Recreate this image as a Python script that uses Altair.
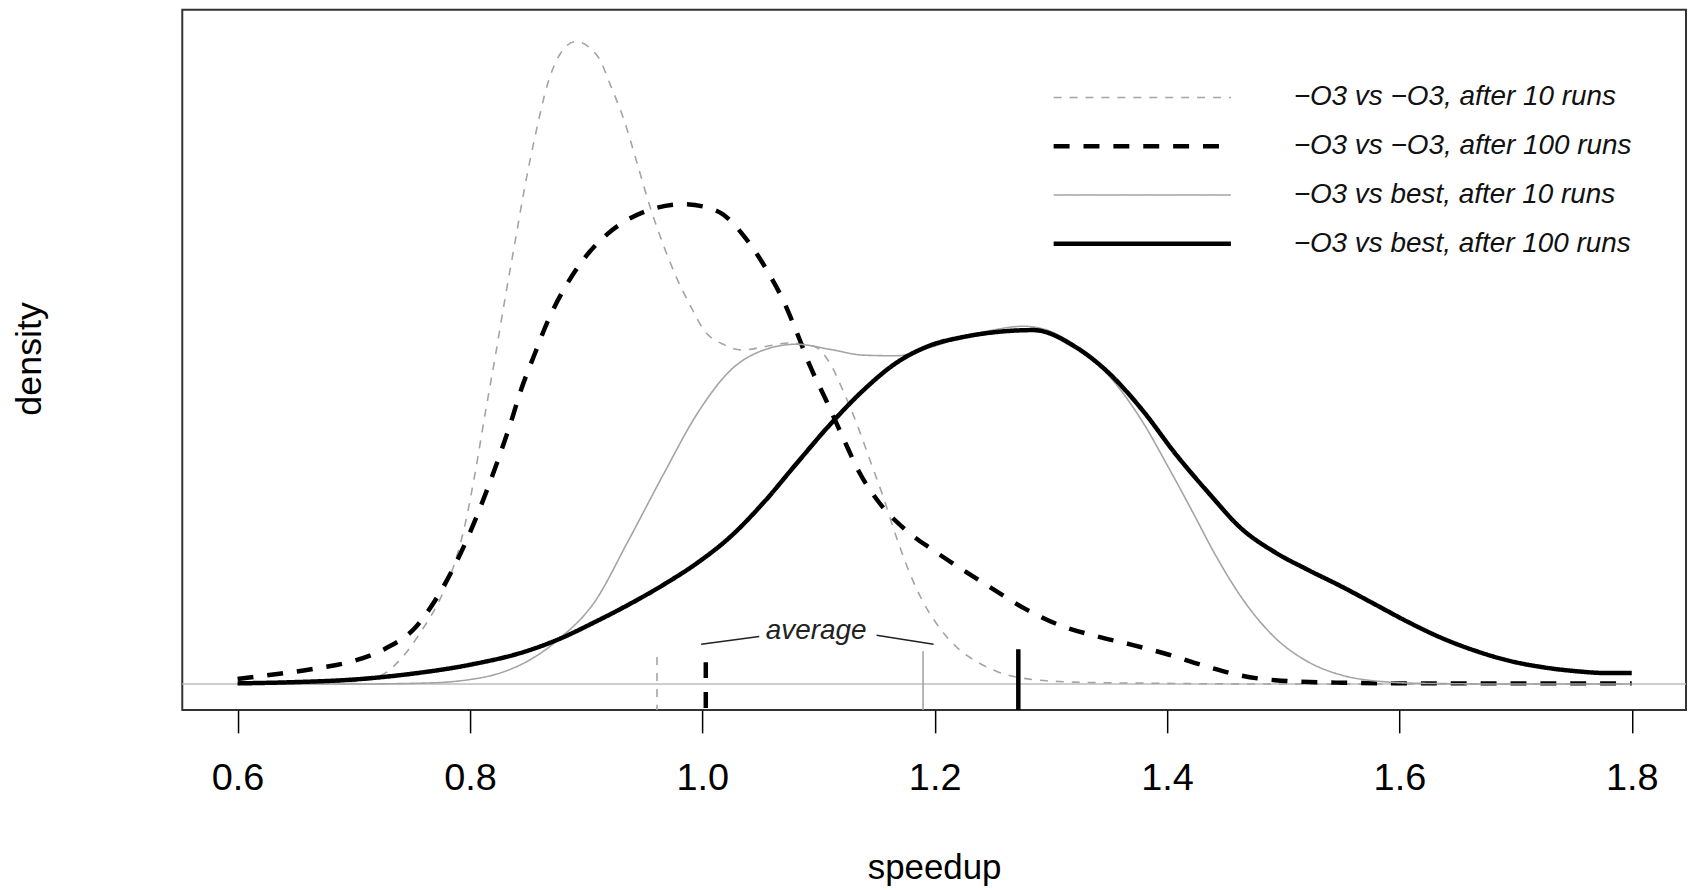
import altair as alt
import pandas as pd

# ---------------- data ----------------
series_names = [
    "\u2212O3 vs \u2212O3, after 10 runs",
    "\u2212O3 vs \u2212O3, after 100 runs",
    "\u2212O3 vs best, after 10 runs",
    "\u2212O3 vs best, after 100 runs",
]
series_runs = [10, 100, 10, 100]

o3_10_x = [0.60, 0.65, 0.70, 0.724, 0.741, 0.758, 0.775, 0.787, 0.796, 0.804, 0.813, 0.822,
           0.830, 0.839, 0.847, 0.856, 0.867, 0.878, 0.891, 0.910, 0.921, 0.933, 0.944,
           0.955, 0.967, 0.978, 0.990, 1.001, 1.019, 1.035, 1.053, 1.075, 1.096, 1.110,
           1.122, 1.133, 1.144, 1.156, 1.167, 1.178, 1.190, 1.204, 1.221, 1.238, 1.253,
           1.28, 1.32, 1.40, 1.50, 1.60, 1.70, 1.80]
o3_10_y = [0.0, 0.001, 0.004, 0.014, 0.040, 0.082, 0.135, 0.189, 0.250, 0.324, 0.420, 0.512,
           0.598, 0.690, 0.772, 0.852, 0.935, 0.982, 1.0, 0.977, 0.932, 0.876, 0.810,
           0.743, 0.681, 0.632, 0.588, 0.552, 0.528, 0.520, 0.525, 0.531, 0.526, 0.499,
           0.453, 0.405, 0.350, 0.290, 0.229, 0.175, 0.128, 0.088, 0.054, 0.033, 0.020,
           0.008, 0.003, 0.001, 0.0, 0.0, 0.0, 0.0]

o3_100_x = [0.60, 0.636, 0.667, 0.698, 0.727, 0.753, 0.770, 0.787, 0.801, 0.813, 0.824, 0.835,
            0.844, 0.856, 0.867, 0.882, 0.899, 0.918, 0.950, 0.984, 1.013, 1.036, 1.056,
            1.070, 1.081, 1.093, 1.107, 1.122, 1.135, 1.152, 1.173, 1.199, 1.224, 1.250,
            1.278, 1.307, 1.338, 1.370, 1.401, 1.433, 1.464, 1.493, 1.55, 1.60, 1.70, 1.80]
o3_100_y = [0.008, 0.016, 0.024, 0.035, 0.055, 0.088, 0.130, 0.185, 0.240, 0.294, 0.348, 0.406,
            0.458, 0.515, 0.565, 0.618, 0.664, 0.700, 0.735, 0.747, 0.736, 0.697, 0.643,
            0.596, 0.549, 0.494, 0.440, 0.380, 0.330, 0.283, 0.243, 0.208, 0.178, 0.148,
            0.117, 0.092, 0.075, 0.061, 0.046, 0.028, 0.013, 0.006, 0.002, 0.001, 0.001, 0.001]

best_10_x = [0.60, 0.70, 0.75, 0.78, 0.80, 0.822, 0.850, 0.878, 0.907, 0.936, 0.967, 0.996,
             1.024, 1.053, 1.081, 1.110, 1.139, 1.167, 1.196, 1.224, 1.253, 1.276, 1.293,
             1.321, 1.350, 1.379, 1.401, 1.422, 1.441, 1.464, 1.493, 1.521, 1.550, 1.578,
             1.62, 1.70, 1.80]
best_10_y = [0.0, 0.0, 0.001, 0.003, 0.007, 0.015, 0.036, 0.072, 0.127, 0.222, 0.328, 0.422,
             0.488, 0.520, 0.529, 0.521, 0.512, 0.511, 0.524, 0.540, 0.552, 0.557, 0.553,
             0.527, 0.480, 0.408, 0.338, 0.268, 0.203, 0.135, 0.072, 0.035, 0.014, 0.005,
             0.001, 0.0, 0.0]

best_100_x = [0.60, 0.65, 0.70, 0.75, 0.80, 0.85, 0.878, 0.907, 0.936, 0.967, 0.996, 1.024,
              1.053, 1.081, 1.110, 1.139, 1.167, 1.196, 1.224, 1.253, 1.285, 1.321, 1.350,
              1.379, 1.407, 1.436, 1.464, 1.493, 1.521, 1.550, 1.578, 1.607, 1.636, 1.665,
              1.695, 1.724, 1.752, 1.78, 1.80]
best_100_y = [0.001, 0.003, 0.007, 0.016, 0.030, 0.052, 0.071, 0.096, 0.123, 0.155, 0.189, 0.229,
              0.283, 0.343, 0.404, 0.458, 0.500, 0.527, 0.540, 0.548, 0.551, 0.525, 0.484,
              0.426, 0.359, 0.297, 0.242, 0.205, 0.178, 0.152, 0.125, 0.097, 0.072, 0.052,
              0.036, 0.026, 0.020, 0.017, 0.017]

# averages marked at the bottom of the plot
avg_x = [0.961, 1.003, 1.190, 1.272]
avg_top = [0.042, 0.034, 0.051, 0.054]

# "average" annotation leader lines
leader_x = [0.999, 1.150]
leader_y = [0.062, 0.076]
leader_x2 = [1.049, 1.199]
leader_y2 = [0.074, 0.062]
note_x = [1.098]
note_y = [0.082]
note_text = ["average"]

x_ticks = [0.6, 0.8, 1.0, 1.2, 1.4, 1.6, 1.8]

# ---------------- tables ----------------
rows = []
for name, runs, xs, ys in zip(series_names, series_runs,
                              [o3_10_x, o3_100_x, best_10_x, best_100_x],
                              [o3_10_y, o3_100_y, best_10_y, best_100_y]):
    for i, (a, b) in enumerate(zip(xs, ys)):
        rows.append({"series": name, "runs": runs, "speedup": a, "density": b, "i": i})
curves = pd.DataFrame(rows)

X_MIN, X_MAX = 0.5524, 1.8467
Y_MIN, Y_MAX = -0.0403, 1.0496

avg_df = pd.DataFrame({"series": series_names, "runs": series_runs, "speedup": avg_x,
                       "top": avg_top, "bottom": [Y_MIN] * 4})
leader_df = pd.DataFrame({"x": leader_x, "y": leader_y, "x2": leader_x2, "y2": leader_y2})
note_df = pd.DataFrame({"x": note_x, "y": note_y, "t": note_text})
zero_df = pd.DataFrame({"y": [0.0]})
legend_df = pd.DataFrame({"series": series_names, "runs": series_runs})

GRAY = "#a4a4a4"
BLACK = "#000000"
FONT = "Liberation Sans"
THIN, THICK = 1.6, 4.5

xscale = alt.Scale(domain=[X_MIN, X_MAX], nice=False, zero=False)
yscale = alt.Scale(domain=[Y_MIN, Y_MAX], nice=False, zero=False)

color_enc = alt.Color("series:N", scale=alt.Scale(domain=series_names,
                      range=[GRAY, BLACK, GRAY, BLACK]), legend=None)
dash_enc = alt.StrokeDash("series:N", scale=alt.Scale(domain=series_names,
                          range=[[8, 8], [16, 14], [1, 0], [1, 0]]), legend=None)
width_enc = alt.StrokeWidth("runs:Q", scale=alt.Scale(type="linear", domain=[10, 100],
                            range=[THIN, THICK]), legend=None)

x_axis = alt.Axis(values=x_ticks, format=".1f", title="speedup", grid=False, domain=False,
                  tickColor="#000000", tickWidth=1.5, tickSize=23,
                  labelFont=FONT, labelFontSize=38, labelColor="#000000", labelPadding=27,
                  labelFlush=False,
                  titleFont=FONT, titleFontSize=35, titleFontWeight="normal",
                  titleColor="#000000", titleY=169, titleBaseline="alphabetic")
y_axis = alt.Axis(title="density", labels=False, ticks=False, domain=False, grid=False,
                  titleFont=FONT, titleFontSize=36, titleFontWeight="normal",
                  titleColor="#000000", titleX=-153, titleY=350,
                  titleAlign="center", titleBaseline="middle", titleAngle=270)

zero_line = alt.Chart(zero_df).mark_rule(color="#bdbdbd", strokeWidth=1.5).encode(
    y=alt.Y("y:Q", scale=yscale, axis=y_axis)
)

lines = alt.Chart(curves).mark_line(interpolate="monotone").encode(
    x=alt.X("speedup:Q", scale=xscale, axis=x_axis),
    y=alt.Y("density:Q", scale=yscale, axis=y_axis),
    color=color_enc,
    strokeDash=dash_enc,
    strokeWidth=width_enc,
    order="i:Q",
)

avg_rules = alt.Chart(avg_df).mark_rule().encode(
    x=alt.X("speedup:Q", scale=xscale),
    y=alt.Y("top:Q", scale=yscale),
    y2="bottom:Q",
    color=color_enc,
    strokeDash=dash_enc,
    strokeWidth=width_enc,
)

leaders = alt.Chart(leader_df).mark_rule(color="#222222", strokeWidth=1.5).encode(
    x=alt.X("x:Q", scale=xscale), y=alt.Y("y:Q", scale=yscale), x2="x2:Q", y2="y2:Q"
)

note = alt.Chart(note_df).mark_text(font=FONT, fontSize=28, fontStyle="italic",
                                    color="#222222", align="center",
                                    baseline="middle").encode(
    x=alt.X("x:Q", scale=xscale), y=alt.Y("y:Q", scale=yscale), text="t:N"
)

main = alt.layer(zero_line, lines, avg_rules, leaders, note)

# legend, drawn from the series table through a point scale for its rows
row_scale = alt.Scale(type="point", domain=series_names, range=[88, 235], padding=0)
leg_lines = alt.Chart(legend_df).mark_rule().encode(
    x=alt.value(875), x2=alt.value(1053),
    y=alt.Y("series:N", scale=row_scale, axis=None),
    color=color_enc, strokeDash=dash_enc, strokeWidth=width_enc,
)
leg_text = alt.Chart(legend_df).mark_text(font=FONT, fontSize=28, fontStyle="italic",
                                          color="#111111", align="left",
                                          baseline="middle").encode(
    x=alt.value(1116),
    y=alt.Y("series:N", scale=row_scale, axis=None),
    text="series:N",
)
legend_layer = alt.layer(leg_lines, leg_text)

chart = alt.layer(main, legend_layer).resolve_scale(y="independent").properties(
    width=1510, height=703,
    autosize=alt.AutoSizeParams(type="none"),
    padding={"left": 175, "top": 0, "right": 2, "bottom": 178},
    background="white",
).configure_view(stroke="#333333", strokeWidth=2)

chart.save("out.html", embed_options={"renderer": "svg", "actions": False})
